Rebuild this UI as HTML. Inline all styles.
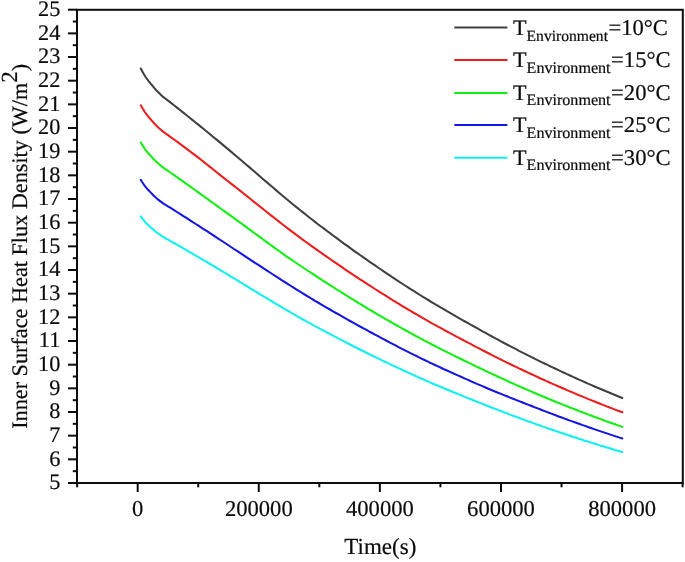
<!DOCTYPE html>
<html><head><meta charset="utf-8"><title>Inner Surface Heat Flux Density</title>
<style>
html,body{margin:0;padding:0;background:#fff;}
svg{display:block;}
text{font-family:"Liberation Serif",serif;font-size:22.6px;fill:#0c0c0c;text-rendering:geometricPrecision;stroke:#0c0c0c;stroke-width:0.2px;}
.sub{font-size:15px;}
.ax line,.ax rect{stroke:#0c0c0c;stroke-width:2;fill:none;}
.cv polyline{fill:none;stroke-width:2.05;stroke-linejoin:round;stroke-linecap:round;}
</style></head><body>
<svg width="685" height="562" viewBox="0 0 685 562">
<rect x="0" y="0" width="685" height="562" fill="#fff"/>
<g class="cv">
<polyline points="140.8,68.5 141.8,70.4 142.8,72.3 143.8,74.0 144.8,75.7 145.8,77.2 146.8,78.7 147.8,80.0 148.8,81.3 149.8,82.5 150.8,83.8 151.8,85.0 152.8,86.2 153.8,87.4 154.8,88.6 155.8,89.7 156.8,90.8 157.8,91.8 158.8,92.8 159.8,93.8 160.8,94.8 161.8,95.7 162.8,96.6 163.8,97.4 164.8,98.1 165.0,98.3 168.0,100.6 171.0,102.9 174.0,105.2 177.0,107.6 180.0,110.0 183.0,112.4 186.0,114.8 189.0,117.2 192.0,119.6 195.0,122.0 198.0,124.4 201.0,126.9 204.0,129.3 207.0,131.7 210.0,134.2 213.0,136.7 216.0,139.1 219.0,141.6 222.0,144.1 225.0,146.6 228.0,149.1 231.0,151.6 234.0,154.2 237.0,156.7 240.0,159.3 243.0,161.8 246.0,164.4 249.0,166.9 252.0,169.5 255.0,172.1 258.0,174.7 261.0,177.3 264.0,179.9 267.0,182.4 270.0,185.0 273.0,187.6 276.0,190.1 279.0,192.7 282.0,195.2 285.0,197.7 288.0,200.2 291.0,202.7 294.0,205.2 297.0,207.6 300.0,210.0 303.0,212.4 306.0,214.8 309.0,217.2 312.0,219.5 315.0,221.9 318.0,224.2 321.0,226.5 324.0,228.7 327.0,231.0 330.0,233.2 333.0,235.5 336.0,237.7 339.0,239.9 342.0,242.1 345.0,244.3 348.0,246.4 351.0,248.6 354.0,250.8 357.0,252.9 360.0,255.0 363.0,257.1 366.0,259.2 369.0,261.3 372.0,263.4 375.0,265.4 378.0,267.5 381.0,269.5 384.0,271.6 387.0,273.6 390.0,275.6 393.0,277.6 396.0,279.6 399.0,281.6 402.0,283.5 405.0,285.5 408.0,287.4 411.0,289.3 414.0,291.2 417.0,293.1 420.0,295.0 423.0,296.9 426.0,298.7 429.0,300.5 432.0,302.3 435.0,304.1 438.0,305.9 441.0,307.7 444.0,309.4 447.0,311.2 450.0,312.9 453.0,314.6 456.0,316.4 459.0,318.1 462.0,319.8 465.0,321.5 468.0,323.2 471.0,324.9 474.0,326.5 477.0,328.2 480.0,329.9 483.0,331.6 486.0,333.2 489.0,334.9 492.0,336.5 495.0,338.1 498.0,339.7 501.0,341.4 504.0,343.0 507.0,344.5 510.0,346.1 513.0,347.7 516.0,349.2 519.0,350.8 522.0,352.3 525.0,353.8 528.0,355.4 531.0,356.9 534.0,358.3 537.0,359.8 540.0,361.3 543.0,362.8 546.0,364.2 549.0,365.7 552.0,367.1 555.0,368.5 558.0,369.9 561.0,371.4 564.0,372.7 567.0,374.1 570.0,375.5 573.0,376.9 576.0,378.2 579.0,379.6 582.0,380.9 585.0,382.2 588.0,383.6 591.0,384.9 594.0,386.2 597.0,387.5 600.0,388.7 603.0,390.0 606.0,391.3 609.0,392.5 612.0,393.8 615.0,395.0 618.0,396.3 621.0,397.5 622.3,398.0" stroke="#404040"/>
<polyline points="140.8,105.3 141.8,107.1 142.8,108.8 143.8,110.4 144.8,112.0 145.8,113.4 146.8,114.7 147.8,116.0 148.8,117.2 149.8,118.3 150.8,119.5 151.8,120.6 152.8,121.8 153.8,122.9 154.8,124.0 155.8,125.0 156.8,126.1 157.8,127.0 158.8,127.9 159.8,128.8 160.8,129.7 161.8,130.6 162.8,131.4 163.8,132.2 164.8,132.9 165.0,133.0 168.0,135.2 171.0,137.3 174.0,139.5 177.0,141.7 180.0,143.9 183.0,146.1 186.0,148.4 189.0,150.6 192.0,152.9 195.0,155.1 198.0,157.4 201.0,159.8 204.0,162.1 207.0,164.5 210.0,166.9 213.0,169.3 216.0,171.7 219.0,174.1 222.0,176.5 225.0,178.9 228.0,181.2 231.0,183.6 234.0,185.9 237.0,188.3 240.0,190.6 243.0,193.0 246.0,195.4 249.0,197.8 252.0,200.2 255.0,202.6 258.0,205.0 261.0,207.4 264.0,209.8 267.0,212.2 270.0,214.6 273.0,216.9 276.0,219.3 279.0,221.6 282.0,224.0 285.0,226.3 288.0,228.6 291.0,230.9 294.0,233.1 297.0,235.4 300.0,237.6 303.0,239.8 306.0,242.0 309.0,244.1 312.0,246.3 315.0,248.4 318.0,250.6 321.0,252.7 324.0,254.8 327.0,256.9 330.0,259.0 333.0,261.1 336.0,263.1 339.0,265.2 342.0,267.2 345.0,269.3 348.0,271.3 351.0,273.3 354.0,275.3 357.0,277.3 360.0,279.3 363.0,281.2 366.0,283.2 369.0,285.1 372.0,287.0 375.0,289.0 378.0,290.9 381.0,292.8 384.0,294.7 387.0,296.5 390.0,298.4 393.0,300.3 396.0,302.1 399.0,304.0 402.0,305.8 405.0,307.6 408.0,309.4 411.0,311.2 414.0,313.0 417.0,314.7 420.0,316.4 423.0,318.2 426.0,319.9 429.0,321.6 432.0,323.3 435.0,324.9 438.0,326.6 441.0,328.2 444.0,329.9 447.0,331.5 450.0,333.1 453.0,334.7 456.0,336.3 459.0,337.9 462.0,339.5 465.0,341.1 468.0,342.7 471.0,344.2 474.0,345.8 477.0,347.4 480.0,348.9 483.0,350.5 486.0,352.0 489.0,353.5 492.0,355.1 495.0,356.6 498.0,358.1 501.0,359.6 504.0,361.1 507.0,362.6 510.0,364.0 513.0,365.5 516.0,366.9 519.0,368.4 522.0,369.8 525.0,371.2 528.0,372.6 531.0,374.0 534.0,375.4 537.0,376.8 540.0,378.2 543.0,379.5 546.0,380.9 549.0,382.2 552.0,383.6 555.0,384.9 558.0,386.2 561.0,387.5 564.0,388.8 567.0,390.1 570.0,391.4 573.0,392.6 576.0,393.9 579.0,395.2 582.0,396.4 585.0,397.6 588.0,398.9 591.0,400.1 594.0,401.3 597.0,402.5 600.0,403.7 603.0,404.9 606.0,406.1 609.0,407.3 612.0,408.4 615.0,409.6 618.0,410.7 621.0,411.8 622.3,412.3" stroke="#ee1c1c"/>
<polyline points="140.8,142.6 141.8,144.3 142.8,145.9 143.8,147.4 144.8,148.9 145.8,150.3 146.8,151.5 147.8,152.7 148.8,153.8 149.8,154.9 150.8,156.0 151.8,157.1 152.8,158.2 153.8,159.2 154.8,160.3 155.8,161.3 156.8,162.2 157.8,163.1 158.8,164.0 159.8,164.9 160.8,165.7 161.8,166.6 162.8,167.3 163.8,168.0 164.8,168.7 165.0,168.8 168.0,170.9 171.0,173.0 174.0,175.1 177.0,177.2 180.0,179.3 183.0,181.4 186.0,183.6 189.0,185.7 192.0,187.9 195.0,190.0 198.0,192.2 201.0,194.3 204.0,196.5 207.0,198.7 210.0,200.8 213.0,203.0 216.0,205.1 219.0,207.3 222.0,209.5 225.0,211.6 228.0,213.8 231.0,215.9 234.0,218.1 237.0,220.3 240.0,222.5 243.0,224.7 246.0,226.9 249.0,229.1 252.0,231.3 255.0,233.5 258.0,235.7 261.0,237.9 264.0,240.1 267.0,242.3 270.0,244.5 273.0,246.7 276.0,248.9 279.0,251.0 282.0,253.2 285.0,255.3 288.0,257.4 291.0,259.4 294.0,261.5 297.0,263.5 300.0,265.5 303.0,267.5 306.0,269.5 309.0,271.5 312.0,273.4 315.0,275.4 318.0,277.4 321.0,279.3 324.0,281.3 327.0,283.2 330.0,285.1 333.0,287.0 336.0,289.0 339.0,290.9 342.0,292.7 345.0,294.6 348.0,296.5 351.0,298.3 354.0,300.2 357.0,302.0 360.0,303.8 363.0,305.7 366.0,307.5 369.0,309.3 372.0,311.0 375.0,312.8 378.0,314.6 381.0,316.3 384.0,318.1 387.0,319.8 390.0,321.5 393.0,323.3 396.0,325.0 399.0,326.7 402.0,328.4 405.0,330.0 408.0,331.7 411.0,333.3 414.0,335.0 417.0,336.6 420.0,338.2 423.0,339.8 426.0,341.4 429.0,342.9 432.0,344.5 435.0,346.0 438.0,347.6 441.0,349.1 444.0,350.6 447.0,352.1 450.0,353.6 453.0,355.1 456.0,356.6 459.0,358.0 462.0,359.5 465.0,361.0 468.0,362.4 471.0,363.9 474.0,365.3 477.0,366.8 480.0,368.2 483.0,369.6 486.0,371.1 489.0,372.5 492.0,373.9 495.0,375.3 498.0,376.7 501.0,378.1 504.0,379.4 507.0,380.8 510.0,382.2 513.0,383.5 516.0,384.9 519.0,386.2 522.0,387.5 525.0,388.8 528.0,390.1 531.0,391.4 534.0,392.7 537.0,394.0 540.0,395.2 543.0,396.5 546.0,397.8 549.0,399.0 552.0,400.2 555.0,401.5 558.0,402.7 561.0,403.9 564.0,405.1 567.0,406.3 570.0,407.5 573.0,408.6 576.0,409.8 579.0,411.0 582.0,412.1 585.0,413.3 588.0,414.4 591.0,415.5 594.0,416.7 597.0,417.8 600.0,418.9 603.0,420.0 606.0,421.1 609.0,422.2 612.0,423.2 615.0,424.3 618.0,425.4 621.0,426.4 622.3,426.9" stroke="#10f010"/>
<polyline points="140.8,179.9 141.8,181.5 142.8,183.0 143.8,184.5 144.8,185.9 145.8,187.2 146.8,188.4 147.8,189.5 148.8,190.5 149.8,191.6 150.8,192.6 151.8,193.6 152.8,194.7 153.8,195.7 154.8,196.6 155.8,197.6 156.8,198.5 157.8,199.3 158.8,200.1 159.8,200.9 160.8,201.7 161.8,202.4 162.8,203.1 163.8,203.8 164.8,204.4 165.0,204.5 168.0,206.4 171.0,208.2 174.0,210.1 177.0,212.0 180.0,213.9 183.0,215.8 186.0,217.7 189.0,219.7 192.0,221.6 195.0,223.5 198.0,225.4 201.0,227.4 204.0,229.3 207.0,231.2 210.0,233.2 213.0,235.1 216.0,237.1 219.0,239.1 222.0,241.0 225.0,243.0 228.0,245.0 231.0,247.0 234.0,249.0 237.0,250.9 240.0,252.9 243.0,254.9 246.0,256.9 249.0,258.8 252.0,260.8 255.0,262.8 258.0,264.7 261.0,266.7 264.0,268.7 267.0,270.6 270.0,272.5 273.0,274.5 276.0,276.4 279.0,278.3 282.0,280.3 285.0,282.2 288.0,284.1 291.0,286.0 294.0,287.9 297.0,289.8 300.0,291.6 303.0,293.5 306.0,295.3 309.0,297.1 312.0,299.0 315.0,300.8 318.0,302.5 321.0,304.3 324.0,306.1 327.0,307.8 330.0,309.5 333.0,311.3 336.0,313.0 339.0,314.7 342.0,316.4 345.0,318.1 348.0,319.8 351.0,321.5 354.0,323.1 357.0,324.8 360.0,326.5 363.0,328.1 366.0,329.7 369.0,331.4 372.0,333.0 375.0,334.6 378.0,336.2 381.0,337.8 384.0,339.4 387.0,341.0 390.0,342.6 393.0,344.1 396.0,345.7 399.0,347.3 402.0,348.8 405.0,350.3 408.0,351.8 411.0,353.4 414.0,354.9 417.0,356.3 420.0,357.8 423.0,359.3 426.0,360.7 429.0,362.2 432.0,363.6 435.0,365.0 438.0,366.4 441.0,367.8 444.0,369.2 447.0,370.5 450.0,371.9 453.0,373.3 456.0,374.6 459.0,375.9 462.0,377.3 465.0,378.6 468.0,379.9 471.0,381.3 474.0,382.6 477.0,383.9 480.0,385.1 483.0,386.4 486.0,387.7 489.0,389.0 492.0,390.2 495.0,391.5 498.0,392.7 501.0,393.9 504.0,395.1 507.0,396.3 510.0,397.6 513.0,398.7 516.0,399.9 519.0,401.1 522.0,402.3 525.0,403.5 528.0,404.6 531.0,405.8 534.0,407.0 537.0,408.1 540.0,409.3 543.0,410.5 546.0,411.6 549.0,412.8 552.0,413.9 555.0,415.0 558.0,416.2 561.0,417.3 564.0,418.4 567.0,419.5 570.0,420.6 573.0,421.6 576.0,422.7 579.0,423.8 582.0,424.9 585.0,425.9 588.0,427.0 591.0,428.0 594.0,429.1 597.0,430.1 600.0,431.1 603.0,432.1 606.0,433.1 609.0,434.1 612.0,435.1 615.0,436.1 618.0,437.1 621.0,438.1 622.3,438.5" stroke="#1414e6"/>
<polyline points="140.8,216.4 141.8,217.8 142.8,219.1 143.8,220.4 144.8,221.6 145.8,222.7 146.8,223.7 147.8,224.7 148.8,225.6 149.8,226.5 150.8,227.4 151.8,228.3 152.8,229.2 153.8,230.1 154.8,231.0 155.8,231.8 156.8,232.6 157.8,233.3 158.8,234.0 159.8,234.7 160.8,235.4 161.8,236.1 162.8,236.8 163.8,237.3 164.8,237.9 165.0,238.0 168.0,239.7 171.0,241.3 174.0,243.0 177.0,244.7 180.0,246.4 183.0,248.2 186.0,249.9 189.0,251.7 192.0,253.4 195.0,255.2 198.0,256.9 201.0,258.7 204.0,260.4 207.0,262.2 210.0,264.0 213.0,265.7 216.0,267.5 219.0,269.3 222.0,271.1 225.0,272.9 228.0,274.7 231.0,276.6 234.0,278.4 237.0,280.2 240.0,282.0 243.0,283.9 246.0,285.7 249.0,287.5 252.0,289.3 255.0,291.2 258.0,293.0 261.0,294.8 264.0,296.6 267.0,298.4 270.0,300.2 273.0,302.0 276.0,303.8 279.0,305.6 282.0,307.4 285.0,309.2 288.0,310.9 291.0,312.7 294.0,314.4 297.0,316.1 300.0,317.8 303.0,319.5 306.0,321.1 309.0,322.8 312.0,324.4 315.0,326.1 318.0,327.7 321.0,329.3 324.0,330.9 327.0,332.5 330.0,334.1 333.0,335.7 336.0,337.2 339.0,338.8 342.0,340.4 345.0,341.9 348.0,343.5 351.0,345.0 354.0,346.5 357.0,348.0 360.0,349.5 363.0,351.0 366.0,352.5 369.0,354.0 372.0,355.5 375.0,356.9 378.0,358.4 381.0,359.8 384.0,361.3 387.0,362.7 390.0,364.2 393.0,365.6 396.0,367.0 399.0,368.4 402.0,369.8 405.0,371.2 408.0,372.6 411.0,373.9 414.0,375.3 417.0,376.6 420.0,378.0 423.0,379.3 426.0,380.6 429.0,381.9 432.0,383.2 435.0,384.5 438.0,385.7 441.0,387.0 444.0,388.3 447.0,389.5 450.0,390.7 453.0,392.0 456.0,393.2 459.0,394.4 462.0,395.7 465.0,396.9 468.0,398.1 471.0,399.3 474.0,400.5 477.0,401.7 480.0,402.9 483.0,404.1 486.0,405.3 489.0,406.5 492.0,407.7 495.0,408.8 498.0,410.0 501.0,411.1 504.0,412.3 507.0,413.4 510.0,414.6 513.0,415.7 516.0,416.8 519.0,417.9 522.0,419.0 525.0,420.1 528.0,421.2 531.0,422.3 534.0,423.4 537.0,424.5 540.0,425.5 543.0,426.6 546.0,427.6 549.0,428.7 552.0,429.7 555.0,430.7 558.0,431.8 561.0,432.8 564.0,433.8 567.0,434.8 570.0,435.8 573.0,436.8 576.0,437.7 579.0,438.7 582.0,439.7 585.0,440.7 588.0,441.6 591.0,442.6 594.0,443.5 597.0,444.4 600.0,445.4 603.0,446.3 606.0,447.2 609.0,448.1 612.0,449.0 615.0,449.9 618.0,450.8 621.0,451.7 622.3,452.1" stroke="#10f0f0"/>
</g>
<g class="ax">
<rect x="77.0" y="9.8" width="605.8" height="473.2"/>
<line x1="68.0" y1="483.00" x2="77.0" y2="483.00"/>
<line x1="72.8" y1="471.17" x2="77.0" y2="471.17"/>
<line x1="68.0" y1="459.33" x2="77.0" y2="459.33"/>
<line x1="72.8" y1="447.50" x2="77.0" y2="447.50"/>
<line x1="68.0" y1="435.67" x2="77.0" y2="435.67"/>
<line x1="72.8" y1="423.84" x2="77.0" y2="423.84"/>
<line x1="68.0" y1="412.00" x2="77.0" y2="412.00"/>
<line x1="72.8" y1="400.17" x2="77.0" y2="400.17"/>
<line x1="68.0" y1="388.34" x2="77.0" y2="388.34"/>
<line x1="72.8" y1="376.51" x2="77.0" y2="376.51"/>
<line x1="68.0" y1="364.68" x2="77.0" y2="364.68"/>
<line x1="72.8" y1="352.84" x2="77.0" y2="352.84"/>
<line x1="68.0" y1="341.01" x2="77.0" y2="341.01"/>
<line x1="72.8" y1="329.18" x2="77.0" y2="329.18"/>
<line x1="68.0" y1="317.35" x2="77.0" y2="317.35"/>
<line x1="72.8" y1="305.51" x2="77.0" y2="305.51"/>
<line x1="68.0" y1="293.68" x2="77.0" y2="293.68"/>
<line x1="72.8" y1="281.85" x2="77.0" y2="281.85"/>
<line x1="68.0" y1="270.01" x2="77.0" y2="270.01"/>
<line x1="72.8" y1="258.18" x2="77.0" y2="258.18"/>
<line x1="68.0" y1="246.35" x2="77.0" y2="246.35"/>
<line x1="72.8" y1="234.52" x2="77.0" y2="234.52"/>
<line x1="68.0" y1="222.69" x2="77.0" y2="222.69"/>
<line x1="72.8" y1="210.85" x2="77.0" y2="210.85"/>
<line x1="68.0" y1="199.02" x2="77.0" y2="199.02"/>
<line x1="72.8" y1="187.19" x2="77.0" y2="187.19"/>
<line x1="68.0" y1="175.36" x2="77.0" y2="175.36"/>
<line x1="72.8" y1="163.52" x2="77.0" y2="163.52"/>
<line x1="68.0" y1="151.69" x2="77.0" y2="151.69"/>
<line x1="72.8" y1="139.86" x2="77.0" y2="139.86"/>
<line x1="68.0" y1="128.03" x2="77.0" y2="128.03"/>
<line x1="72.8" y1="116.19" x2="77.0" y2="116.19"/>
<line x1="68.0" y1="104.36" x2="77.0" y2="104.36"/>
<line x1="72.8" y1="92.53" x2="77.0" y2="92.53"/>
<line x1="68.0" y1="80.69" x2="77.0" y2="80.69"/>
<line x1="72.8" y1="68.86" x2="77.0" y2="68.86"/>
<line x1="68.0" y1="57.03" x2="77.0" y2="57.03"/>
<line x1="72.8" y1="45.20" x2="77.0" y2="45.20"/>
<line x1="68.0" y1="33.37" x2="77.0" y2="33.37"/>
<line x1="72.8" y1="21.53" x2="77.0" y2="21.53"/>
<line x1="68.0" y1="9.70" x2="77.0" y2="9.70"/>
<line x1="77.13" y1="483.0" x2="77.13" y2="487.3"/>
<line x1="137.68" y1="483.0" x2="137.68" y2="492.0"/>
<line x1="198.23" y1="483.0" x2="198.23" y2="487.3"/>
<line x1="258.78" y1="483.0" x2="258.78" y2="492.0"/>
<line x1="319.33" y1="483.0" x2="319.33" y2="487.3"/>
<line x1="379.88" y1="483.0" x2="379.88" y2="492.0"/>
<line x1="440.43" y1="483.0" x2="440.43" y2="487.3"/>
<line x1="500.98" y1="483.0" x2="500.98" y2="492.0"/>
<line x1="561.53" y1="483.0" x2="561.53" y2="487.3"/>
<line x1="622.08" y1="483.0" x2="622.08" y2="492.0"/>
<line x1="682.63" y1="483.0" x2="682.63" y2="487.3"/>
</g>
<g>
<text x="60.3" y="489.3" text-anchor="end" style="font-size:22.3px">5</text>
<text x="60.3" y="465.6" text-anchor="end" style="font-size:22.3px">6</text>
<text x="60.3" y="442.0" text-anchor="end" style="font-size:22.3px">7</text>
<text x="60.3" y="418.3" text-anchor="end" style="font-size:22.3px">8</text>
<text x="60.3" y="394.6" text-anchor="end" style="font-size:22.3px">9</text>
<text x="60.3" y="371.0" text-anchor="end" style="font-size:22.3px">10</text>
<text x="60.3" y="347.3" text-anchor="end" style="font-size:22.3px">11</text>
<text x="60.3" y="323.6" text-anchor="end" style="font-size:22.3px">12</text>
<text x="60.3" y="300.0" text-anchor="end" style="font-size:22.3px">13</text>
<text x="60.3" y="276.3" text-anchor="end" style="font-size:22.3px">14</text>
<text x="60.3" y="252.7" text-anchor="end" style="font-size:22.3px">15</text>
<text x="60.3" y="229.0" text-anchor="end" style="font-size:22.3px">16</text>
<text x="60.3" y="205.3" text-anchor="end" style="font-size:22.3px">17</text>
<text x="60.3" y="181.7" text-anchor="end" style="font-size:22.3px">18</text>
<text x="60.3" y="158.0" text-anchor="end" style="font-size:22.3px">19</text>
<text x="60.3" y="134.3" text-anchor="end" style="font-size:22.3px">20</text>
<text x="60.3" y="110.7" text-anchor="end" style="font-size:22.3px">21</text>
<text x="60.3" y="87.0" text-anchor="end" style="font-size:22.3px">22</text>
<text x="60.3" y="63.3" text-anchor="end" style="font-size:22.3px">23</text>
<text x="60.3" y="39.7" text-anchor="end" style="font-size:22.3px">24</text>
<text x="60.3" y="16.0" text-anchor="end" style="font-size:22.3px">25</text>
</g>
<g>
<text x="137.7" y="515.9" text-anchor="middle">0</text>
<text x="258.8" y="515.9" text-anchor="middle">200000</text>
<text x="379.9" y="515.9" text-anchor="middle">400000</text>
<text x="501.0" y="515.9" text-anchor="middle">600000</text>
<text x="622.1" y="515.9" text-anchor="middle">800000</text>
</g>
<text x="380.3" y="554.2" text-anchor="middle" style="font-size:23px">Time(s)</text>
<text transform="translate(27,428.85) rotate(-90)" style="font-size:22.23px">Inner Surface Heat Flux Density (W/m<tspan dy="-9.6" style="font-size:23px">2</tspan><tspan dy="9.6">)</tspan></text>
<g>
<line x1="454.3" y1="27.4" x2="507.4" y2="27.4" stroke="#404040" stroke-width="2.05"/>
<text x="513" y="34.9" style="font-size:22.2px">T<tspan class="sub" dy="5.6" style="font-size:15.6px">Environment</tspan><tspan dy="-5.6" dx="0.5" style="font-size:22.6px">=10°C</tspan></text>
<line x1="454.3" y1="59.9" x2="507.4" y2="59.9" stroke="#ee1c1c" stroke-width="2.05"/>
<text x="513" y="67.3" style="font-size:22.2px">T<tspan class="sub" dy="5.6" style="font-size:16.1px">Environment</tspan><tspan dy="-5.6" dx="0.5" style="font-size:22.6px">=15°C</tspan></text>
<line x1="454.3" y1="93.0" x2="507.4" y2="93.0" stroke="#10f010" stroke-width="2.05"/>
<text x="513" y="99.7" style="font-size:22.2px">T<tspan class="sub" dy="5.6" style="font-size:16.1px">Environment</tspan><tspan dy="-5.6" dx="0.5" style="font-size:22.6px">=20°C</tspan></text>
<line x1="454.3" y1="125.0" x2="507.4" y2="125.0" stroke="#1414e6" stroke-width="2.05"/>
<text x="513" y="132.1" style="font-size:22.2px">T<tspan class="sub" dy="5.6" style="font-size:16.1px">Environment</tspan><tspan dy="-5.6" dx="0.5" style="font-size:22.6px">=25°C</tspan></text>
<line x1="454.3" y1="157.8" x2="507.4" y2="157.8" stroke="#10f0f0" stroke-width="2.05"/>
<text x="513" y="164.5" style="font-size:22.2px">T<tspan class="sub" dy="5.6" style="font-size:16.1px">Environment</tspan><tspan dy="-5.6" dx="0.5" style="font-size:22.6px">=30°C</tspan></text>
</g>
</svg>
</body></html>
